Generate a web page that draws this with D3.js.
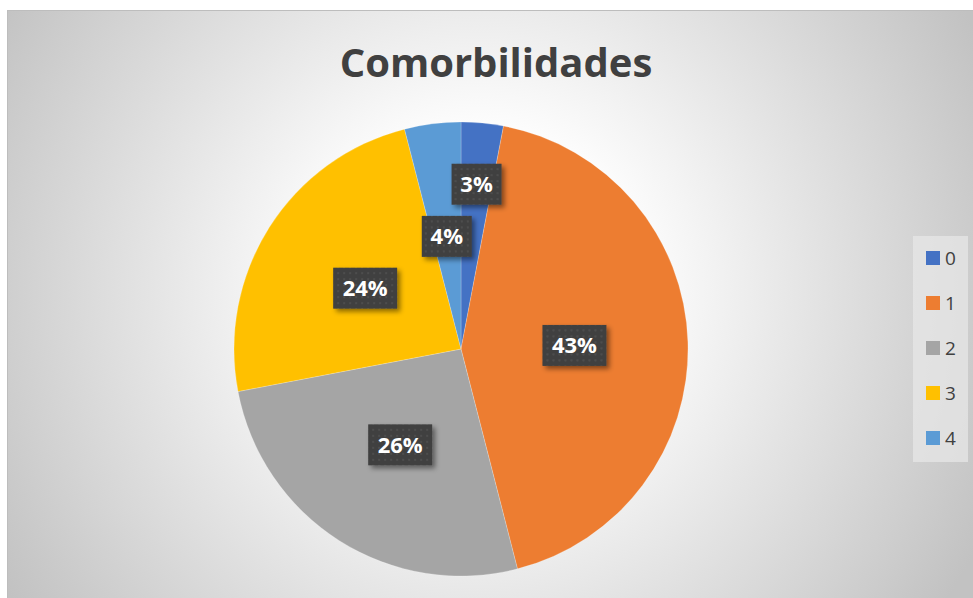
<!DOCTYPE html>
<meta charset="utf-8">
<style>
  body { margin: 0; background: #fff; }
  svg { display: block; font-family: "Open Sans", "Noto Sans", sans-serif; }
  .title { font-size: 40px; font-weight: 700; fill: #404040; }
  .lab text { font-size: 22px; font-weight: 700; fill: #fff; }
  .legend text { font-size: 19px; fill: #404040; }
</style>
<body>
<script src="https://d3js.org/d3.v7.min.js"></script>
<script>
// ===== data =====
const categories = ['0', '1', '2', '3', '4'];
const shares = [3, 43, 26, 24, 4];
const colors = ['#4472C4', '#ED7D31', '#A5A5A5', '#FFC000', '#5B9BD5'];
const title = 'Comorbilidades';

const width = 973, height = 598;
const svg = d3.select('body').append('svg')
    .attr('width', width)
    .attr('height', height);

const defs = svg.append('defs');
const grad = defs.append('radialGradient')
    .attr('id', 'bg')
    .attr('gradientUnits', 'userSpaceOnUse')
    .attr('cx', 480).attr('cy', 290).attr('r', 560);
grad.append('stop').attr('offset', '0%').attr('stop-color', '#ffffff');
grad.append('stop').attr('offset', '30%').attr('stop-color', '#fcfcfc');
grad.append('stop').attr('offset', '100%').attr('stop-color', '#c2c2c2');

const shadow = defs.append('filter').attr('id', 'sh')
    .attr('x', '-20%').attr('y', '-20%').attr('width', '150%').attr('height', '150%');
shadow.append('feDropShadow')
    .attr('dx', 3).attr('dy', 3).attr('stdDeviation', 2.5)
    .attr('flood-color', '#000').attr('flood-opacity', 0.45);

const dots = defs.append('pattern').attr('id', 'dots')
    .attr('patternUnits', 'userSpaceOnUse')
    .attr('width', 6).attr('height', 6);
dots.append('rect').attr('width', 6).attr('height', 6).attr('fill', '#404040');
dots.append('circle').attr('cx', 3).attr('cy', 3).attr('r', 1).attr('fill', '#525252');

// chart area
svg.append('rect')
    .attr('x', 7.5).attr('y', 10.5)
    .attr('width', width).attr('height', height)
    .attr('fill', 'url(#bg)')
    .attr('stroke', '#bdbdbd');

svg.append('text')
    .attr('class', 'title')
    .attr('x', 496).attr('y', 77)
    .attr('text-anchor', 'middle')
    .text(title);

// ===== pie =====
const cx = 461, cy = 349, r = 227;
const pie = d3.pie().sort(null).value(d => d);
const arcs = pie(shares);
const arc = d3.arc().innerRadius(0).outerRadius(r);

const g = svg.append('g').attr('transform', `translate(${cx},${cy})`);

g.selectAll('path')
  .data(arcs)
  .enter()
  .append('path')
    .attr('d', arc)
    .attr('fill', (d, i) => colors[i])
    .attr('stroke', 'rgba(255,255,255,0.35)')
    .attr('stroke-width', 0.6);

// labels at half radius, pushed outward when they collide
const boxH = 41;
const fmt = v => Math.round(v) + '%';
const placed = [];
arcs.slice().reverse().forEach(a => {
  const txt = fmt(a.data);
  const w = txt.length > 2 ? 64 : 50;
  const mid = (a.startAngle + a.endAngle) / 2;
  let rr = r * 0.5;
  let x, y;
  for (let k = 0; k < 40; k++) {
    x = Math.sin(mid) * rr; y = -Math.cos(mid) * rr;
    const hit = placed.some(p => Math.abs(p.x - x) < (p.w + w) / 2 + 2 && Math.abs(p.y - y) < boxH + 8);
    if (!hit) break;
    rr += 4;
  }
  placed.push({ x, y, w, txt });
});

const lab = g.selectAll('.lab')
  .data(placed)
  .enter()
  .append('g')
    .attr('class', 'lab')
    .attr('transform', d => `translate(${d.x},${d.y})`);

lab.append('rect')
    .attr('x', d => -d.w / 2).attr('y', -boxH / 2)
    .attr('width', d => d.w).attr('height', boxH)
    .attr('fill', 'url(#dots)')
    .attr('filter', 'url(#sh)');

lab.append('text')
    .attr('text-anchor', 'middle')
    .attr('dy', '0.36em')
    .text(d => d.txt);

// ===== legend =====
const legendY = d3.scalePoint().domain(categories).range([258, 438]);
svg.append('rect')
    .attr('x', 913).attr('y', 236)
    .attr('width', 55).attr('height', 226)
    .attr('fill', '#e8e8e8').attr('fill-opacity', 0.7);

const leg = svg.selectAll('.legend')
  .data(categories)
  .enter()
  .append('g')
    .attr('class', 'legend')
    .attr('transform', d => `translate(926,${legendY(d)})`);

leg.append('rect')
    .attr('x', 0).attr('y', -7)
    .attr('width', 14).attr('height', 14)
    .attr('fill', (d, i) => colors[i]);

leg.append('text')
    .attr('x', 19).attr('dy', '0.36em')
    .text(d => d);
</script>
